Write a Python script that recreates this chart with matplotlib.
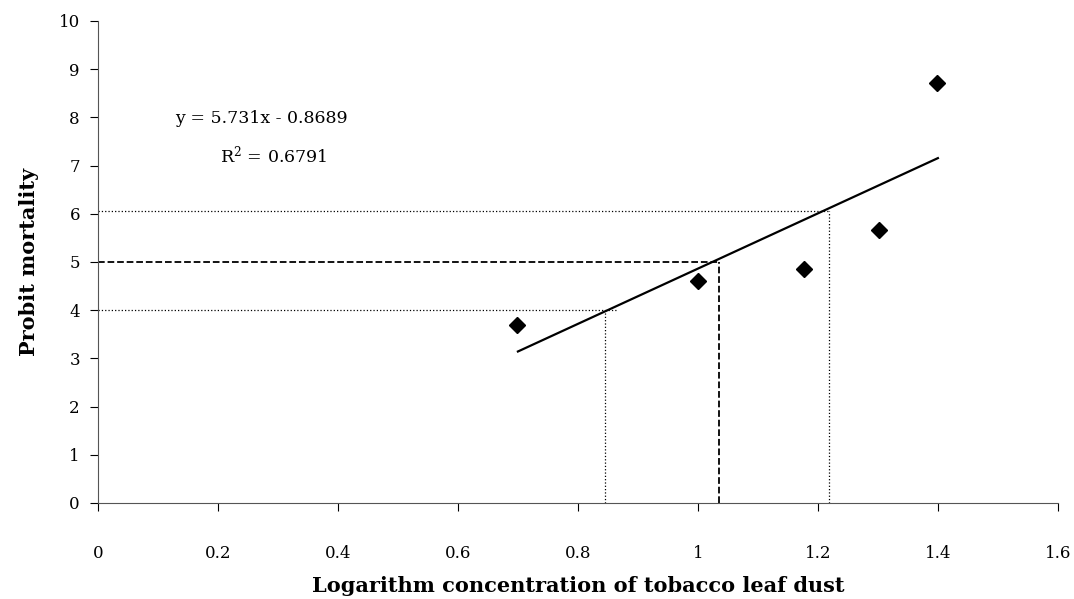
import matplotlib
matplotlib.use('Agg')
import matplotlib.pyplot as plt
import numpy as np

# observed points: log concentration vs probit mortality
log_conc = [0.699, 1.0, 1.176, 1.301, 1.398]
probit = [3.70, 4.60, 4.86, 5.67, 8.72]

# fitted line y = 5.731x - 0.8689
slope, intercept = 5.731, -0.8689
fit_x = [0.70, 1.40]

# reference (LC) guide lines
lc_lo = (0.845, 4.0, 0.865)   # x, y, horizontal end
lc50 = (1.035, 5.0, 1.035)
lc_hi = (1.218, 6.05, 1.218)

plt.rcParams['font.family'] = ['DejaVu Serif']
plt.rcParams['mathtext.fontset'] = 'dejavuserif'

fig = plt.figure(figsize=(10.74, 5.99), dpi=100)
ax = fig.add_axes([0.0912, 0.1603, 0.8938, 0.8047])

fx = np.array(fit_x)
ax.plot(fx, slope * fx + intercept, color='black', lw=1.6, zorder=3)
ax.plot(log_conc, probit, ls='none', marker='D', ms=8.5, color='black', zorder=4)

for (vx, vy, hend), ls in [(lc_lo, ':'), (lc50, '--'), (lc_hi, ':')]:
    lw = 1.3 if ls == '--' else 0.9
    ax.plot([0, hend], [vy, vy], color='black', ls=ls, lw=lw, zorder=2)
    ax.plot([vx, vx], [0, vy], color='black', ls=ls, lw=lw, zorder=2)

ax.text(0.128, 7.98, 'y = 5.731x - 0.8689', fontsize=12.5, va='center', ha='left')
ax.text(0.203, 7.21, 'R$^{2}$ = 0.6791', fontsize=12.5, va='center', ha='left')

ax.set_xlim(0, 1.6)
ax.set_ylim(0, 10)
ax.set_xticks(np.arange(0, 1.61, 0.2))
ax.set_xticklabels(['0', '0.2', '0.4', '0.6', '0.8', '1', '1.2', '1.4', '1.6'])
ax.set_yticks(range(0, 11))
ax.tick_params(direction='out', length=6, width=0.8, labelsize=12)
ax.tick_params(axis='x', pad=24)
ax.tick_params(axis='y', pad=7)
ax.spines['top'].set_visible(False)
ax.spines['right'].set_visible(False)
for s in ('left', 'bottom'):
    ax.spines[s].set_color('#555555')

ax.set_xlabel('Logarithm concentration of tobacco leaf dust', fontsize=15,
              fontweight='bold', labelpad=10)
ax.set_ylabel('Probit mortality', fontsize=15, fontweight='bold', labelpad=14)

fig.savefig('out.png', dpi=100)
